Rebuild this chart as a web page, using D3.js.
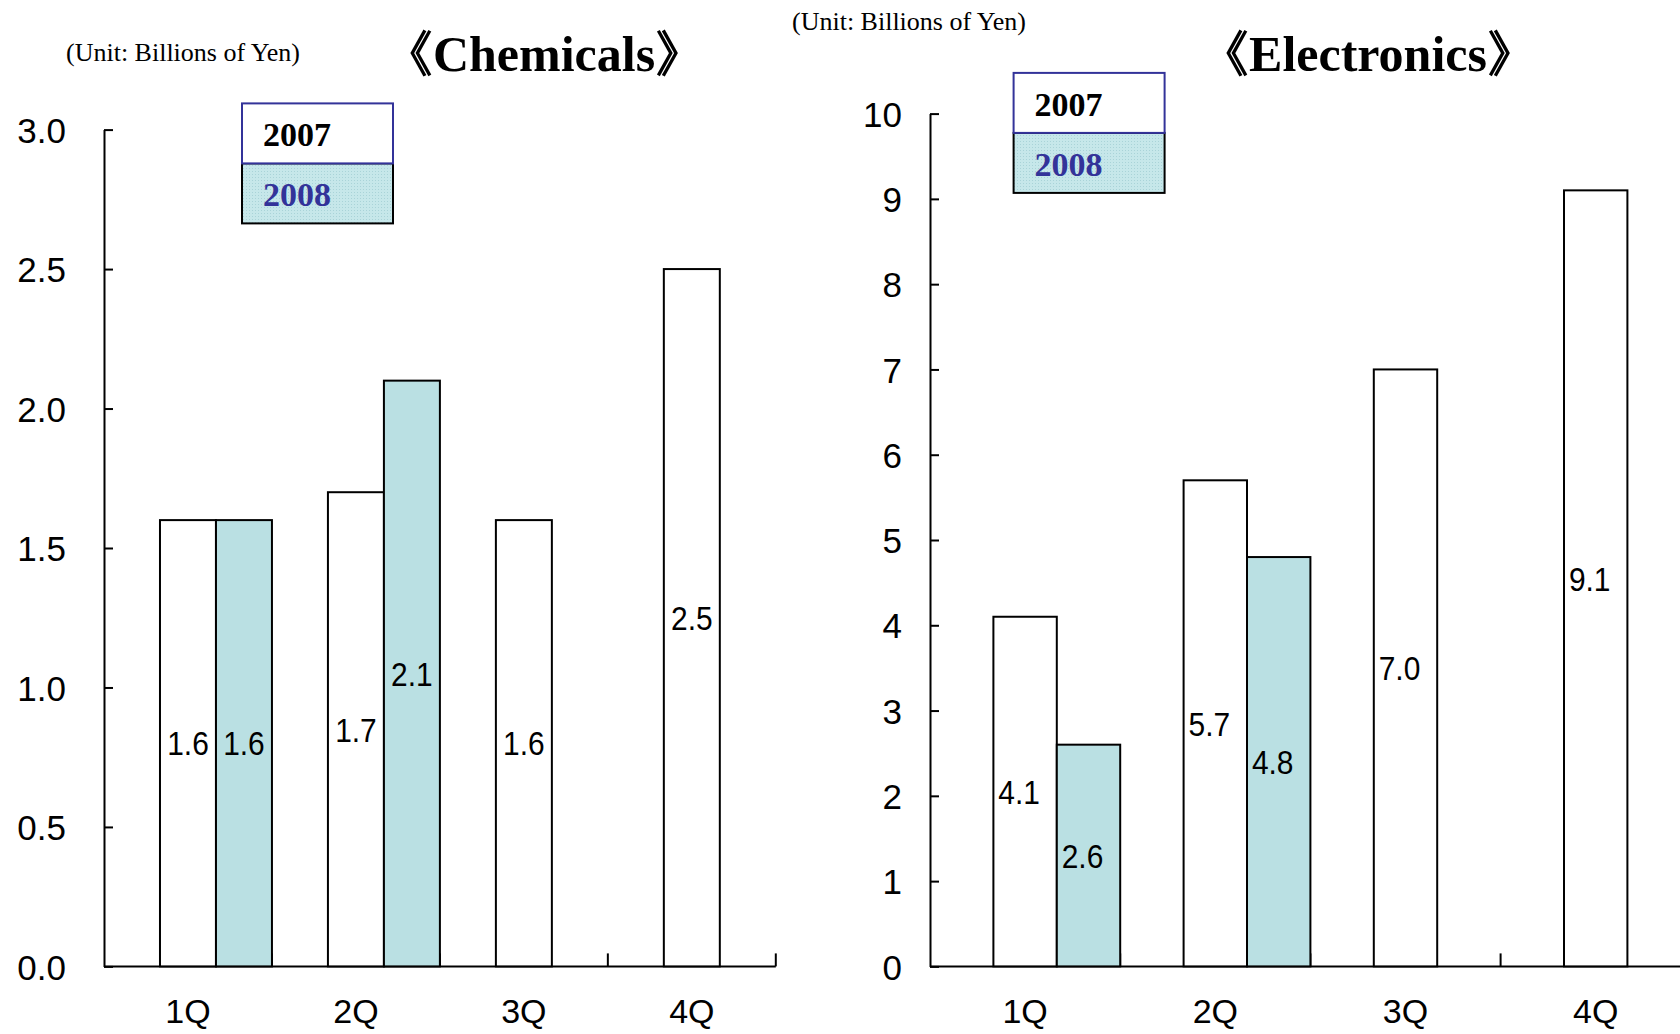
<!DOCTYPE html>
<html>
<head>
<meta charset="utf-8">
<script src="https://cdn.jsdelivr.net/npm/d3@7"></script>
<style>
  html, body { margin: 0; padding: 0; background: #fff; }
  svg { display: block; }
</style>
</head>
<body>
<svg id="chart" width="1680" height="1034"></svg>
<script>
// ---- data ----
const categories = ["1Q", "2Q", "3Q", "4Q"];
const seriesNames = ["2007", "2008"];
const chemicals2007 = [1.6, 1.7, 1.6, 2.5];
const chemicals2008 = [1.6, 2.1, null, null];
const electronics2007 = [4.1, 5.7, 7.0, 9.1];
const electronics2008 = [2.6, 4.8, null, null];
const chemicalsTicks = [0, 0.5, 1.0, 1.5, 2.0, 2.5, 3.0];
const electronicsTicks = [0, 1, 2, 3, 4, 5, 6, 7, 8, 9, 10];
const chemicalsTitle = "《Chemicals》";
const electronicsTitle = "《Electronics》";
const unitLabel = "(Unit: Billions of Yen)";

const svg = d3.select("#chart");
const TEAL = "#bae0e3";
const NAVY = "#333399";
const SANS = "'Liberation Sans', Arial, sans-serif";
const SERIF = "'Liberation Serif', 'Times New Roman', serif";

// pattern for legend 2008 swatch
const defs = svg.append("defs");
const pat = defs.append("pattern").attr("id", "dots").attr("width", 3).attr("height", 3)
  .attr("patternUnits", "userSpaceOnUse");
pat.append("rect").attr("width", 3).attr("height", 3).attr("fill", "#c6e7ea");
pat.append("rect").attr("width", 1).attr("height", 1).attr("fill", "#a9d3d8");

function drawChart(cfg) {
  const g = svg.append("g");
  const x = d3.scaleBand().domain(categories).range([cfg.x0, cfg.x1]).padding(0);
  const y = d3.scaleLinear().domain([cfg.ticks[0], cfg.ticks[cfg.ticks.length - 1]])
    .range([cfg.yBottom, cfg.yTop]);
  const bw = x.bandwidth();

  // y axis (ticks inward)
  const yAxis = d3.axisLeft(y).tickValues(cfg.ticks).tickFormat(cfg.fmt)
    .tickSizeInner(-9).tickSizeOuter(0).tickPadding(cfg.tickPad);
  const ya = g.append("g").attr("transform", `translate(${cfg.x0},0)`).call(yAxis);
  ya.select(".domain").attr("stroke", "#000").attr("stroke-width", 2);
  ya.selectAll(".tick line").attr("stroke", "#000").attr("stroke-width", 2);
  ya.selectAll(".tick text").attr("font-family", SANS).attr("font-size", 35)
    .attr("fill", "#000").attr("dy", "0.36em");

  // x axis labels
  const xAxis = d3.axisBottom(x).tickSize(0).tickPadding(36);
  const xa = g.append("g").attr("transform", `translate(0,${cfg.yBottom})`).call(xAxis);
  xa.select(".domain").remove();
  xa.selectAll(".tick text").attr("font-family", SANS).attr("font-size", 34)
    .attr("fill", "#000").attr("dy", "0.6em");

  // baseline
  g.append("line").attr("x1", cfg.x0).attr("x2", cfg.x1)
    .attr("y1", cfg.yBottom).attr("y2", cfg.yBottom)
    .attr("stroke", "#000").attr("stroke-width", 2);
  // category boundary ticks (upward)
  const bounds = categories.map(c => x(c)).concat([cfg.x1]).slice(1);
  g.selectAll(".btick").data(bounds).join("line")
    .attr("x1", d => d).attr("x2", d => d)
    .attr("y1", cfg.yBottom).attr("y2", cfg.yBottom - 13)
    .attr("stroke", "#000").attr("stroke-width", 2);

  // bars
  const series = [cfg.s2007, cfg.s2008];
  const fills = ["#ffffff", TEAL];
  series.forEach((vals, si) => {
    const data = categories.map((c, i) => ({ c, v: vals[i] })).filter(d => d.v != null);
    g.selectAll(".bar" + si).data(data).join("rect")
      .attr("x", d => x(d.c) + bw * (si + 1) / 3)
      .attr("width", bw / 3)
      .attr("y", d => y(d.v))
      .attr("height", d => y(0) - y(d.v))
      .attr("fill", fills[si]).attr("stroke", "#000").attr("stroke-width", 2);
    g.selectAll(".lab" + si).data(data).join("text")
      .attr("transform", d => `translate(${x(d.c) + bw * (si + 1.5) / 3 + cfg.labelDx},${(y(d.v) + y(0)) / 2}) scale(0.88,1)`)
      .attr("text-anchor", "middle").attr("dy", "0.36em")
      .attr("font-family", SANS).attr("font-size", 34).attr("fill", "#000")
      .text(d => d.v.toFixed(1));
  });

  // unit label
  g.append("text").attr("x", cfg.unitX).attr("y", cfg.unitY)
    .attr("font-family", SERIF).attr("font-size", 26).attr("fill", "#000")
    .text(unitLabel);
  // title
  g.append("text").attr("x", cfg.titleX).attr("y", 71).attr("text-anchor", "middle")
    .attr("font-family", SERIF).attr("font-size", 50).attr("font-weight", "bold")
    .attr("fill", "#000").text(cfg.title);

  // legend
  const lx = cfg.legX, ly = cfg.legY, lw = 151, lh = 60;
  g.append("rect").attr("x", lx).attr("y", ly + lh).attr("width", lw).attr("height", lh)
    .attr("fill", "url(#dots)").attr("stroke", "#000").attr("stroke-width", 2);
  g.append("rect").attr("x", lx).attr("y", ly).attr("width", lw).attr("height", lh)
    .attr("fill", "#fff").attr("stroke", NAVY).attr("stroke-width", 2);
  const legColors = ["#000", NAVY];
  seriesNames.forEach((s, i) => {
    g.append("text").attr("x", lx + 21).attr("y", ly + lh * i + 43)
      .attr("font-family", SERIF).attr("font-size", 34).attr("font-weight", "bold")
      .attr("fill", legColors[i]).text(s);
  });
}

drawChart({
  x0: 104, x1: 775.8, yBottom: 966.4, yTop: 129.6,
  ticks: chemicalsTicks, fmt: d3.format(".1f"), tickPad: 38,
  s2007: chemicals2007, s2008: chemicals2008, labelDx: 0,
  unitX: 66, unitY: 61, title: chemicalsTitle, titleX: 544,
  legX: 242, legY: 103.4
});

drawChart({
  x0: 930, x1: 1690.8, yBottom: 966.4, yTop: 113.6,
  ticks: electronicsTicks, fmt: d3.format("d"), tickPad: 28,
  s2007: electronics2007, s2008: electronics2008, labelDx: -6,
  unitX: 792, unitY: 30, title: electronicsTitle, titleX: 1368,
  legX: 1013.6, legY: 72.9
});
</script>
</body>
</html>
